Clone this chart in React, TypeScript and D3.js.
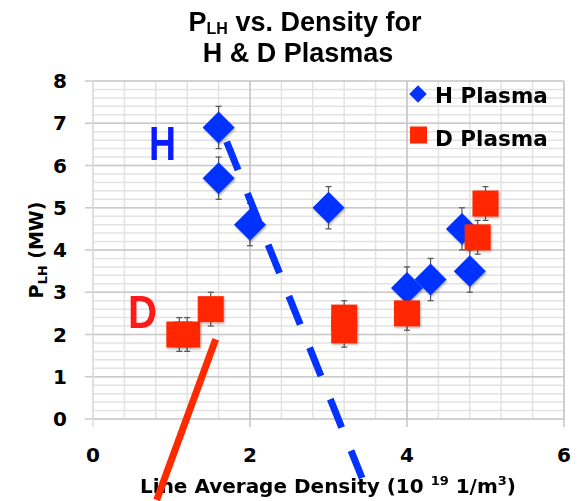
import React, { useEffect, useRef } from 'react';
import * as d3 from 'd3';

// H plasma points (density 10^19 1/m^3, P_LH in MW)
const hDensity = [1.6, 1.6, 2.0, 3.0, 4.0, 4.3, 4.7, 4.8];
const hPower = [6.9, 5.7, 4.6, 5.0, 3.1, 3.3, 4.5, 3.5];
const hError = 0.5;

// D plasma points
const dDensity = [1.1, 1.2, 1.5, 3.2, 3.2, 4.0, 4.9, 5.0];
const dPower = [2.0, 2.0, 2.6, 2.4, 2.1, 2.5, 4.3, 5.1];
const dError = 0.4;

const xTicks = [0, 2, 4, 6];
const yTicks = [0, 1, 2, 3, 4, 5, 6, 7, 8];

// hand drawn annotation strokes, in data units
const redStroke = [[1.563, 1.886], [0.811, -1.917]];
const blueStroke = [[1.703, 6.563], [3.427, -1.396]];

const BLUE = '#0433ff';
const RED = '#ff2600';
const FONT = '"Liberation Sans", Arial, sans-serif';
const WIDE = '"DejaVu Sans", sans-serif';

function Chart() {
    const svgRef = useRef(null);

    useEffect(() => {
        if (!svgRef.current) return;
        const svg = d3.select(svgRef.current);
        svg.selectAll('*').remove();

        const x = d3.scaleLinear().domain([0, 6]).range([93, 564]);
        const y = d3.scaleLinear().domain([0, 8]).range([419, 81]);

        const defs = svg.append('defs');
        const f = defs.append('filter').attr('id', 'shadow')
            .attr('x', '-30%').attr('y', '-30%').attr('width', '160%').attr('height', '160%');
        f.append('feDropShadow').attr('dx', 1).attr('dy', 1.5)
            .attr('stdDeviation', 1.2).attr('flood-color', '#000').attr('flood-opacity', 0.3);

        // grid
        const grid = svg.append('g');
        grid.selectAll('.vminor')
            .data(d3.range(0, 6.001, 0.4))
            .join('line')
            .attr('x1', d => x(d)).attr('x2', d => x(d))
            .attr('y1', y(8)).attr('y2', y(0))
            .attr('stroke', '#e2e2e2').attr('stroke-width', 1.5);
        grid.selectAll('.hminor')
            .data(d3.range(0, 8.001, 0.2))
            .join('line')
            .attr('x1', x(0)).attr('x2', x(6))
            .attr('y1', d => y(d)).attr('y2', d => y(d))
            .attr('stroke', '#e2e2e2').attr('stroke-width', 1.5);
        grid.selectAll('.hmajor')
            .data(yTicks)
            .join('line')
            .attr('x1', x(0) - 8).attr('x2', x(6))
            .attr('y1', d => y(d)).attr('y2', d => y(d))
            .attr('stroke', '#cacaca').attr('stroke-width', 1.5);
        grid.selectAll('.vmajor')
            .data(xTicks)
            .join('line')
            .attr('x1', d => x(d)).attr('x2', d => x(d))
            .attr('y1', y(8)).attr('y2', y(0) + 8)
            .attr('stroke', d => d === 0 ? '#dcdcdc' : '#c6c6c6').attr('stroke-width', 1.5);

        // tick labels
        svg.append('g').selectAll('text')
            .data(yTicks)
            .join('text')
            .attr('x', 60).attr('y', d => y(d) + 7)
            .attr('text-anchor', 'middle')
            .attr('font-family', WIDE).attr('font-weight', 'bold').attr('font-size', 20)
            .text(d => d);
        svg.append('g').selectAll('text')
            .data(xTicks)
            .join('text')
            .attr('x', d => x(d)).attr('y', 462)
            .attr('text-anchor', 'middle')
            .attr('font-family', WIDE).attr('font-weight', 'bold').attr('font-size', 20)
            .text(d => d);

        // error bars
        const errBars = (xs, ys, e) => {
            const g = svg.append('g').attr('stroke', '#555').attr('stroke-width', 1.2);
            xs.forEach((xv, i) => {
                const cx = x(xv);
                const top = y(ys[i] + e);
                const bot = y(ys[i] - e);
                g.append('line').attr('x1', cx).attr('x2', cx).attr('y1', top).attr('y2', bot);
                g.append('line').attr('x1', cx - 3).attr('x2', cx + 3).attr('y1', top).attr('y2', top);
                g.append('line').attr('x1', cx - 3).attr('x2', cx + 3).attr('y1', bot).attr('y2', bot);
            });
        };
        errBars(hDensity, hPower, hError);
        errBars(dDensity, dPower, dError);

        const square = d3.symbol(d3.symbolSquare, 26 * 26);
        const diamond = d3.symbol(d3.symbolSquare, 22.6 * 22.6);

        svg.append('g').attr('filter', 'url(#shadow)')
            .selectAll('path')
            .data(hDensity)
            .join('path')
            .attr('d', diamond)
            .attr('transform', (d, i) => `translate(${x(d)},${y(hPower[i])}) rotate(45)`)
            .attr('fill', BLUE);

        svg.append('g').attr('filter', 'url(#shadow)')
            .selectAll('path')
            .data(dDensity)
            .join('path')
            .attr('d', square)
            .attr('transform', (d, i) => `translate(${x(d)},${y(dPower[i])})`)
            .attr('fill', RED);

        // legend
        const leg = svg.append('g');
        leg.append('path')
            .attr('d', d3.symbol(d3.symbolSquare, 12.4 * 12.4))
            .attr('transform', 'translate(418,94) rotate(45)')
            .attr('fill', BLUE);
        leg.append('path')
            .attr('d', d3.symbol(d3.symbolSquare, 17 * 17))
            .attr('transform', 'translate(418.5,135)')
            .attr('fill', RED);
        leg.selectAll('text')
            .data(['H Plasma', 'D Plasma'])
            .join('text')
            .attr('x', 435).attr('y', (d, i) => 103 + i * 43)
            .attr('font-family', WIDE).attr('font-weight', 'bold').attr('font-size', 21.5)
            .text(d => d);

        // title
        const t1 = svg.append('text')
            .attr('x', 305).attr('y', 31)
            .attr('text-anchor', 'middle')
            .attr('font-family', FONT).attr('font-weight', 'bold').attr('font-size', 27);
        t1.append('tspan').text('P');
        t1.append('tspan').attr('font-size', 16).attr('dy', 3).text('LH');
        t1.append('tspan').attr('dy', -3).text(' vs. Density for');
        svg.append('text')
            .attr('x', 298).attr('y', 62)
            .attr('text-anchor', 'middle')
            .attr('font-family', FONT).attr('font-weight', 'bold').attr('font-size', 27)
            .text('H & D Plasmas');

        // y axis title
        const yt = svg.append('text')
            .attr('transform', 'translate(43,250) rotate(-90)')
            .attr('text-anchor', 'middle')
            .attr('font-family', WIDE).attr('font-weight', 'bold').attr('font-size', 19);
        yt.append('tspan').text('P');
        yt.append('tspan').attr('font-size', 13).attr('dy', 4).text('LH');
        yt.append('tspan').attr('dy', -4).text(' (MW)');

        // x axis title
        const xt = svg.append('text')
            .attr('x', 328).attr('y', 493)
            .attr('text-anchor', 'middle')
            .attr('font-family', WIDE).attr('font-weight', 'bold').attr('font-size', 20);
        xt.append('tspan').text('Line Average Density (10 ');
        xt.append('tspan').attr('font-size', 13).attr('dy', -8).text('19');
        xt.append('tspan').attr('dy', 8).text(' 1/m');
        xt.append('tspan').attr('font-size', 13).attr('dy', -8).text('3');
        xt.append('tspan').attr('dy', 8).text(')');

        // annotations
        svg.append('text')
            .attr('x', 149).attr('y', 160)
            .attr('textLength', 27).attr('lengthAdjust', 'spacingAndGlyphs')
            .attr('font-family', FONT).attr('font-weight', 'bold').attr('font-size', 48)
            .attr('fill', '#0a1cff')
            .text('H');
        svg.append('text')
            .attr('x', 128).attr('y', 328)
            .attr('textLength', 29).attr('lengthAdjust', 'spacingAndGlyphs')
            .attr('font-family', FONT).attr('font-weight', 'bold').attr('font-size', 46)
            .attr('fill', '#ff1a1a')
            .text('D');

        const line = d3.line().x(d => x(d[0])).y(d => y(d[1]));
        svg.append('path')
            .datum(redStroke)
            .attr('d', line)
            .attr('fill', 'none')
            .attr('stroke', '#ff2a00')
            .attr('stroke-width', 7);
        svg.append('path')
            .datum(blueStroke)
            .attr('d', line)
            .attr('fill', 'none')
            .attr('stroke', BLUE)
            .attr('stroke-width', 7)
            .attr('stroke-dasharray', '30.5 25');
    }, []);

    return <svg ref={svgRef} width={585} height={501}
        style={{ position: 'absolute', left: 0, top: 0, background: '#fff' }} />;
}

export default function App() {
    return <Chart />;
}
